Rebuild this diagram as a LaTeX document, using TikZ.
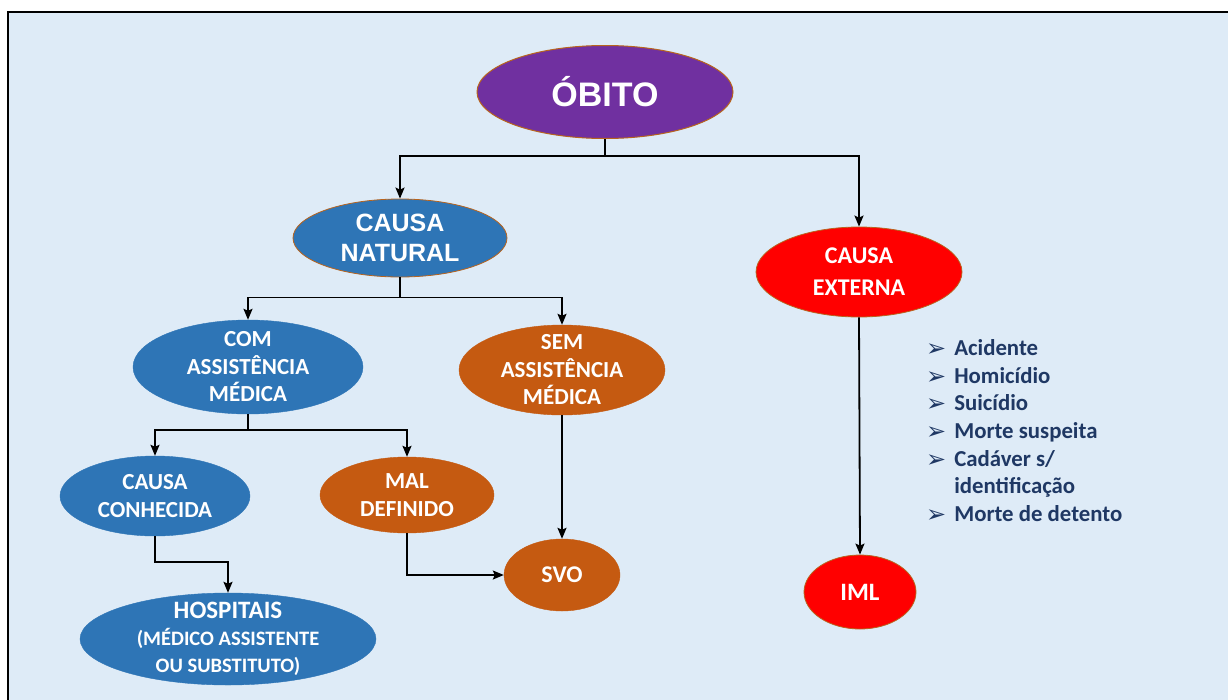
\documentclass[tikz,border=0pt]{standalone}
\usepackage{fontspec}
\setmainfont{Carlito}
\newfontfamily\arialfont{Liberation Sans}
\newfontfamily\symfont{DejaVu Sans}
\usetikzlibrary{shapes.geometric,arrows.meta}
\definecolor{fundo}{HTML}{DEEBF7}
\definecolor{roxo}{HTML}{7030A0}
\definecolor{azul}{HTML}{2E75B6}
\definecolor{laranja}{HTML}{C55A11}
\definecolor{vermelho}{HTML}{FF0000}
\definecolor{contorno}{HTML}{B8641E}
\definecolor{marinho}{HTML}{1F3864}
\tikzset{
    bolha/.style={ellipse, inner xsep=0pt, inner ysep=-12pt, text=white, align=center,
        font=\bfseries\fontsize{23}{27.5}\selectfont},
    bolharoxa/.style={bolha, fill=roxo, draw=contorno, line width=1pt},
    bolhaazul/.style={bolha, fill=azul, draw=azul},
    bolhalaranja/.style={bolha, fill=laranja, draw=laranja},
    bolhavermelha/.style={bolha, fill=vermelho, draw=contorno, line width=0.8pt,
        font=\bfseries\fontsize{24}{32}\selectfont},
    seta/.style={line width=1.8pt, -{Stealth[length=11pt,width=9pt,inset=2pt]}},
}
\newcommand{\marca}{{\symfont\fontsize{24}{24}\selectfont\raisebox{-1pt}{➢}}}
\begin{document}
\begin{tikzpicture}[x=1pt, y=-1pt]
    \useasboundingbox (0,0) rectangle (1228,699);
    \clip (0,0) rectangle (1228,699);
    \fill[white] (0,0) rectangle (1228,699);
    \draw[line width=2pt, fill=fundo] (8,12) rectangle (1240,710);

    \node[bolharoxa, minimum width=256, minimum height=93,
        font=\arialfont\bfseries\fontsize{34}{40}\selectfont] (obito) at (605,92) {ÓBITO};
    \node[bolhaazul, draw=contorno, line width=0.8pt, minimum width=214, minimum height=78,
        font=\arialfont\bfseries\fontsize{25}{30}\selectfont] (natural) at (400,238) {CAUSA\\NATURAL};
    \node[bolhavermelha, minimum width=206, minimum height=90] (externa) at (859,272) {CAUSA\\EXTERNA};
    \node[bolhaazul, minimum width=230, minimum height=94] (comassist) at (248,367) {COM\\ASSISTÊNCIA\\MÉDICA};
    \node[bolhalaranja, minimum width=206, minimum height=90] (semassist) at (562,370) {SEM\\ASSISTÊNCIA\\MÉDICA};
    \node[bolhaazul, minimum width=190, minimum height=80] (conhecida) at (155,496) {CAUSA\\CONHECIDA};
    \node[bolhalaranja, minimum width=174, minimum height=76] (maldef) at (407,495) {MAL\\DEFINIDO};
    \node[bolhalaranja, minimum width=116, minimum height=72,
        font=\bfseries\fontsize{24}{28}\selectfont] (svo) at (562,575) {SVO};
    \node[bolhaazul, minimum width=296, minimum height=92] (hospitais) at (228,639)
        {{\fontsize{25}{28}\selectfont HOSPITAIS}\\[-1pt]
         {\fontsize{20.5}{24}\selectfont (MÉDICO ASSISTENTE}\\
         {\fontsize{20.5}{24}\selectfont OU SUBSTITUTO)}};
    \node[bolhavermelha, minimum width=112, minimum height=74,
        font=\bfseries\fontsize{25}{30}\selectfont] (iml) at (860,592) {IML};

    \node[anchor=west, inner sep=0pt, text=marinho,
        font=\bfseries\fontsize{22.8}{27.6}\selectfont] (lista) at (926,433)
        {\begin{tabular}{@{}l@{\hspace{8pt}}l@{}}
            \marca & Acidente\\
            \marca & Homicídio\\
            \marca & Suicídio\\
            \marca & Morte suspeita\\
            \marca & Cadáver s/\\
                   & identificação\\
            \marca & Morte de detento
        \end{tabular}};

    \draw[seta] (obito.south) -- ++(0,17) -| (natural.north);
    \draw[seta] (obito.south) -- ++(0,17) -| (externa.north);
    \draw[seta] (natural.south) -- ++(0,20) -| (comassist.north);
    \draw[seta] (natural.south) -- ++(0,20) -| (semassist.north);
    \draw[seta] (comassist.south) -- ++(0,16) -| (conhecida.north);
    \draw[seta] (comassist.south) -- ++(0,16) -| (maldef.north);
    \draw[seta] (semassist.south) -- (svo.north);
    \draw[seta] (maldef.south) |- (svo.west);
    \draw[seta] (conhecida.south) -- ++(0,26) -| (hospitais.north);
    \draw[seta] (externa.south) -- (iml.north);
\end{tikzpicture}
\end{document}
